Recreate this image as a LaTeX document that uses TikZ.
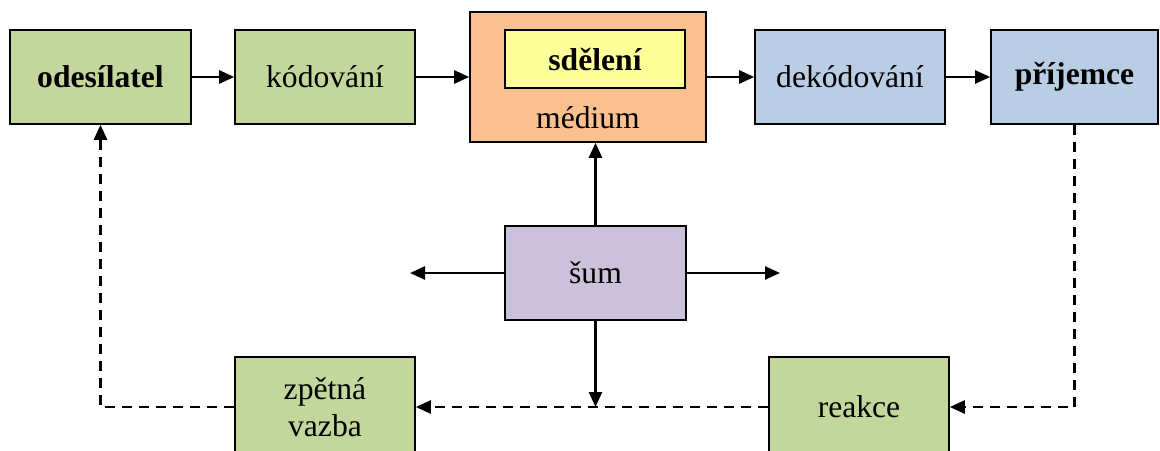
\documentclass[tikz,border=0pt]{standalone}
\usepackage{fontspec}
\setmainfont{Liberation Serif}
\usepackage{tikz}
\usetikzlibrary{arrows.meta}
\usepackage{xcolor}

\definecolor{zelena}{HTML}{C3D69B}
\definecolor{oranzova}{HTML}{FAC090}
\definecolor{zluta}{HTML}{FFFF99}
\definecolor{modra}{HTML}{B9CDE5}
\definecolor{fialova}{HTML}{CCC1DA}

\begin{document}
\begin{tikzpicture}[
    blok/.style={draw, line width=0.9pt, minimum width=3.6cm, minimum height=1.88cm,
      font=\fontsize{18}{21}\selectfont, align=center, inner sep=0pt},
    sipka/.style={line width=1.4pt, -{Triangle[length=3mm,width=2.6mm]}},
    zpet/.style={sipka, dash pattern=on 2mm off 1.4mm}
  ]
    \useasboundingbox (0,0) rectangle (23.2,-9);
    % horni rada
    \node[blok, fill=zelena, minimum width=3.62cm, font=\fontsize{18}{21}\selectfont\bfseries] (ode) at (2.01,-1.54) {odesílatel};
    \node[blok, fill=zelena] (kod) at (6.5,-1.54) {kódování};
    \node[blok, fill=oranzova, minimum width=4.72cm, minimum height=2.6cm] (med) at (11.76,-1.54) {};
    \node[blok, fill=zluta, minimum height=1.16cm, font=\fontsize{18}{21}\selectfont\bfseries] (sde) at (11.9,-1.18) {sdělení};
    \node[font=\fontsize{18}{21}\selectfont] (medtxt) at (11.76,-2.36) {médium};
    \node[blok, fill=modra, minimum width=3.8cm] (dek) at (17.0,-1.54) {dekódování};
    \node[blok, fill=modra, minimum width=3.34cm, font=\fontsize{18}{21}\selectfont\bfseries] (pri) at (21.49,-1.54) {příjemce};
    % sum
    \node[blok, fill=fialova, minimum width=3.62cm] (sum) at (11.91,-5.46) {šum};
    % spodni rada (dole oriznute)
    \node[blok, fill=zelena, minimum height=2cm] (zpe) at (6.5,-8.14) {zpětná\\vazba};
    \node[blok, fill=zelena, minimum height=2cm] (rea) at (17.18,-8.14) {reakce};

    \coordinate (sumL) at (8.2,-5.46);
    \coordinate (sumP) at (15.6,-5.46);
    \coordinate (sumD) at (sum.south |- zpe.east);
    \coordinate (rohP) at (pri.south |- rea.east);
    \coordinate (rohL) at (ode.south |- zpe.west);

    \draw[sipka] (ode) -- (kod);
    \draw[sipka] (kod) -- (med.west |- kod.east);
    \draw[sipka] (med.east |- dek.west) -- (dek);
    \draw[sipka] (dek) -- (pri);
    \draw[sipka] (sum.north) -- (sum.north |- med.south);
    \draw[sipka] (sum.west) -- (sumL);
    \draw[sipka] (sum.east) -- (sumP);
    \draw[sipka] (sum.south) -- (sumD);
    % zpetna vazba
    \draw[zpet] (pri.south) -- (rohP) -- (rea.east);
    \draw[zpet] (rea.west) -- (zpe.east);
    \draw[zpet] (zpe.west) -- (rohL) -- (ode.south);
\end{tikzpicture}
\end{document}
